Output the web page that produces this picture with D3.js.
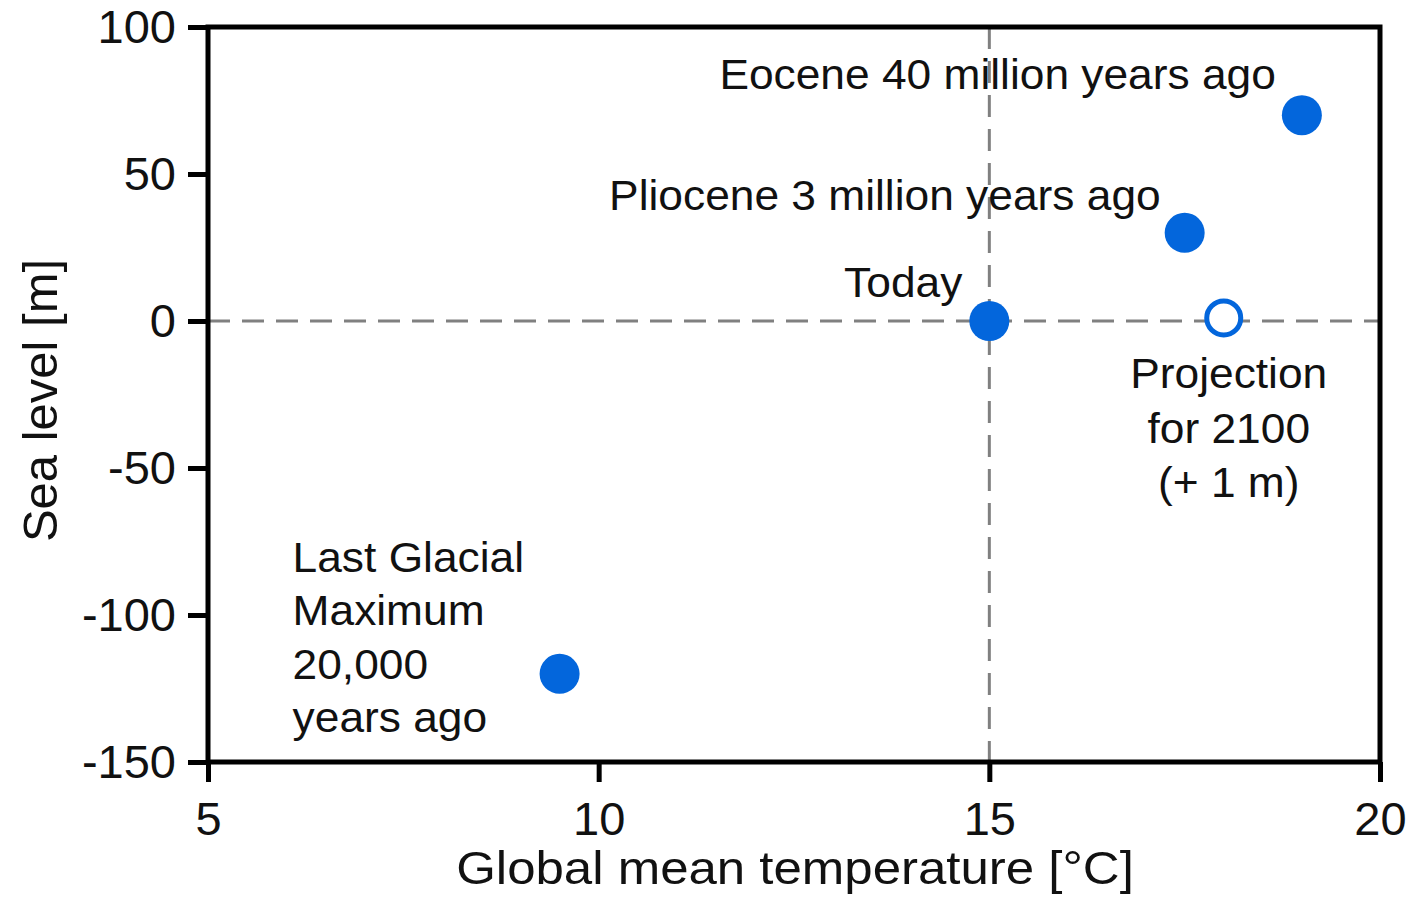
<!DOCTYPE html>
<html>
<head>
<meta charset="utf-8">
<script src="https://cdn.jsdelivr.net/npm/d3@7"></script>
<style>
  html, body { margin: 0; padding: 0; background: #fff; }
  svg text { font-family: "Liberation Sans", Arial, Helvetica, sans-serif; fill: #111; }
</style>
</head>
<body>
<svg id="chart" width="1412" height="897"></svg>
<script>
// ---- data ----
const labels = ["Last Glacial Maximum 20,000 years ago", "Today", "Pliocene 3 million years ago", "Eocene 40 million years ago", "Projection for 2100 (+ 1 m)"];
const temperature = [9.5, 15, 17.5, 19, 18];
const seaLevel = [-120, 0, 30, 70, 1];
const filled = [true, true, true, true, false];
const xTicks = [5, 10, 15, 20];
const yTicks = [100, 50, 0, -50, -100, -150];

// ---- layout ----
const W = 1412, H = 897;
const m = { left: 208, right: 32, top: 27, bottom: 135 };
const svg = d3.select("#chart");
const x = d3.scaleLinear().domain([5, 20]).range([m.left, W - m.right]);
const y = d3.scaleLinear().domain([-150, 100]).range([H - m.bottom, m.top]);
const blue = "#0366dc";
const fmt = d => String(d).replace("\u2212", "-");

// reference dashed lines
svg.append("line")
  .attr("x1", x(5)).attr("x2", x(20)).attr("y1", y(0)).attr("y2", y(0))
  .attr("stroke", "#808080").attr("stroke-width", 3).attr("stroke-dasharray", "22,12");
svg.append("line")
  .attr("x1", x(15)).attr("x2", x(15)).attr("y1", y(100)).attr("y2", y(-150))
  .attr("stroke", "#808080").attr("stroke-width", 3).attr("stroke-dasharray", "22,12");

// axes
const xAxis = d3.axisBottom(x).tickValues(xTicks).tickSize(20).tickPadding(20).tickFormat(fmt);
const yAxis = d3.axisLeft(y).tickValues(yTicks).tickSize(20).tickPadding(12).tickFormat(fmt);

const gx = svg.append("g").attr("transform", `translate(0,${y(-150)})`).call(xAxis);
const gy = svg.append("g").attr("transform", `translate(${x(5)},0)`).call(yAxis);
[gx, gy].forEach(g => {
  g.select(".domain").remove();
  g.selectAll(".tick line").attr("stroke", "#000").attr("stroke-width", 5);
  g.selectAll(".tick text").attr("font-size", 47).attr("fill", "#111")
    .style("font-family", '"Liberation Sans", Arial, sans-serif');
});
gx.selectAll(".tick text").attr("dy", "0.71em");

// frame
svg.append("rect")
  .attr("x", x(5)).attr("y", y(100))
  .attr("width", x(20) - x(5)).attr("height", y(-150) - y(100))
  .attr("fill", "none").attr("stroke", "#000").attr("stroke-width", 5);

// points
const pts = temperature.map((t, i) => ({ t, s: seaLevel[i], f: filled[i], label: labels[i] }));
svg.selectAll("circle.pt").data(pts).join("circle")
  .attr("class", "pt")
  .attr("cx", d => x(d.t)).attr("cy", d => y(d.s))
  .attr("r", d => d.f ? 20 : 17)
  .attr("fill", d => d.f ? blue : "#fff")
  .attr("stroke", d => d.f ? "none" : blue)
  .attr("stroke-width", d => d.f ? 0 : 5);

// annotations (reference glyphs are slightly wide; stretch horizontally)
const fs = 42, sx = 1.055;
function multiline(lines, px, py, anchor, lh) {
  const g = svg.append("g").attr("transform", `translate(${px},${py}) scale(${sx},1)`);
  const t = g.append("text").attr("font-size", fs).attr("text-anchor", anchor);
  lines.forEach((l, i) => t.append("tspan").attr("x", 0).attr("y", i * lh).text(l));
}
multiline(["Eocene 40 million years ago"], x(19) - 26, y(70) - 26, "end", 0);
multiline(["Pliocene 3 million years ago"], x(17.5) - 24, y(30) - 23, "end", 0);
multiline(["Today"], x(15) - 27, y(0) - 24, "end", 0);
multiline(["Projection", "for 2100", "(+ 1 m)"], x(18) + 5, y(1) + 70, "middle", 54.5);
multiline(["Last Glacial", "Maximum", "20,000", "years ago"], x(9.5) - 267, y(-120) - 102, "start", 53.5);

// axis titles
svg.append("text").attr("font-size", 47).attr("text-anchor", "middle")
  .attr("transform", `translate(${(x(5) + x(20)) / 2 + 1},884) scale(1.085,1)`)
  .text("Global mean temperature [°C]");
svg.append("text").attr("font-size", 49).attr("text-anchor", "middle")
  .attr("transform", `translate(57,${(y(100) + y(-150)) / 2 + 6}) rotate(-90)`)
  .text("Sea level [m]");
</script>
</body>
</html>
